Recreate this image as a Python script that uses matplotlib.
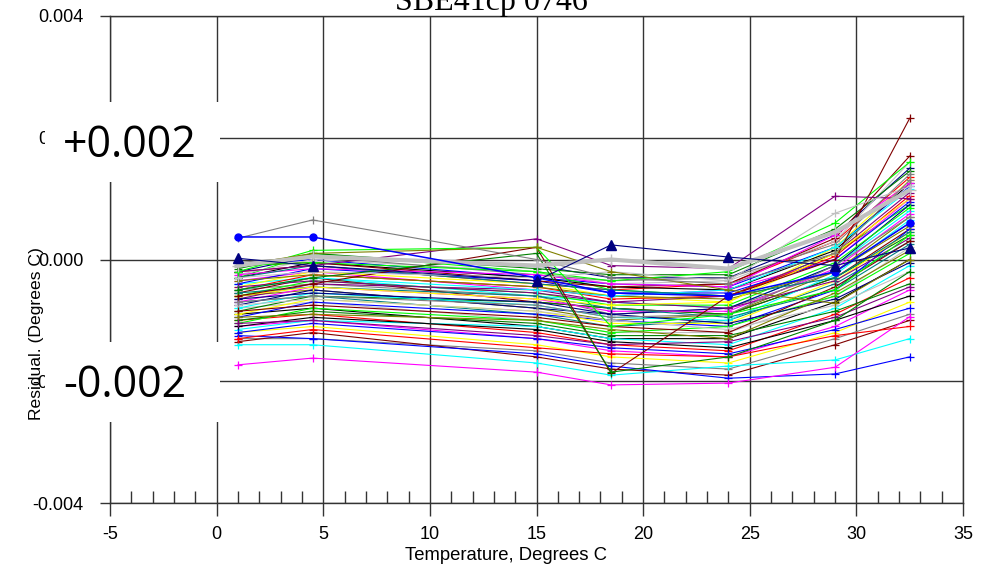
import matplotlib
matplotlib.use("Agg")
import matplotlib.pyplot as plt
from matplotlib.patches import Rectangle

# calibration temperatures (deg C)
temps = [1.0, 4.5, 15.0, 18.5, 24.0, 29.0, 32.5]

# residuals per calibration run, in millidegrees C
runs_mk = [
    [-0.10, 0.00, -0.30, -0.40, -0.45, 0.20, 1.20],
    [-0.20, -0.10, -0.40, -0.50, -0.40, 0.30, 1.35],
    [-0.30, 0.10, -0.20, -0.50, -0.60, 0.10, 0.90],
    [-0.35, -0.20, -0.50, -0.60, -0.50, 0.00, 1.00],
    [-0.40, -0.30, -0.60, -0.70, -0.80, -0.10, 0.80],
    [-0.45, -0.20, -0.40, -0.60, -0.70, 0.20, 1.30],
    [-0.50, -0.40, -0.60, -0.90, -0.80, -0.20, 0.60],
    [-0.55, -0.30, -0.70, -0.80, -0.90, -0.30, 0.50],
    [-0.60, -0.50, -0.80, -1.00, -0.90, -0.20, 0.70],
    [-0.65, -0.40, -0.50, -0.70, -0.60, 0.10, 1.10],
    [-0.70, -0.60, -0.90, -1.10, -1.00, -0.40, 0.30],
    [-0.75, -0.50, -0.80, -0.90, -0.80, -0.10, 0.90],
    [-0.80, -0.70, -1.00, -1.20, -1.20, -0.60, 0.20],
    [-0.85, -0.60, -0.70, -0.80, -0.90, -0.30, 0.40],
    [-0.90, -0.80, -1.10, -1.30, -1.30, -0.70, 0.00],
    [-0.95, -0.70, -0.90, -1.00, -1.10, -0.50, 0.50],
    [-1.00, -0.90, -1.20, -1.40, -1.50, -0.90, -0.30],
    [-1.05, -0.80, -1.00, -1.20, -1.10, -0.60, 0.10],
    [-1.10, -1.00, -1.30, -1.50, -1.60, -1.10, -0.50],
    [-1.15, -1.00, -1.10, -1.30, -1.40, -0.80, -0.10],
    [-1.20, -1.10, -1.40, -1.60, -1.70, -1.20, -0.70],
    [-1.30, -1.30, -1.50, -1.70, -1.80, -1.30, -0.90],
    [-1.35, -1.20, -1.60, -1.80, -1.90, -1.40, -1.00],
    [-1.40, -1.40, -1.70, -1.90, -1.75, -1.65, -1.30],
    [-1.25, -1.30, -1.55, -1.75, -1.95, -1.88, -1.60],
    [-1.73, -1.62, -1.85, -2.06, -2.03, -1.77, -0.94],
    [-0.20, 0.05, -0.10, -0.30, -0.30, 0.40, 1.50],
    [-0.25, 0.00, -0.20, -0.40, -0.35, 0.30, 1.60],
    [-0.15, 0.10, -0.15, -0.25, -0.25, 0.50, 1.45],
    [-0.30, -0.05, -0.30, -0.45, -0.50, 0.15, 1.25],
    [-0.40, -0.15, -0.35, -0.55, -0.55, 0.00, 0.95],
    [-0.50, -0.25, -0.45, -0.65, -0.60, 0.05, 1.05],
    [-0.60, -0.35, -0.55, -0.75, -0.75, -0.05, 0.85],
    [-0.70, -0.45, -0.65, -0.85, -0.85, -0.15, 0.75],
    [-0.80, -0.55, -0.75, -0.95, -1.00, -0.25, 0.65],
    [-0.90, -0.65, -0.85, -1.05, -1.05, -0.35, 0.45],
    [-0.05, 0.05, -0.25, -0.35, -0.30, 0.25, 1.40],
    [-0.10, -0.05, -0.35, -0.45, -0.40, 0.35, 1.70],
    [-0.35, -0.25, -0.45, -0.60, -0.65, -0.20, 0.55],
    [-0.45, -0.35, -0.55, -0.70, -0.80, -0.35, 0.35],
    [-0.55, -0.45, -0.60, -0.80, -0.95, -0.50, 0.25],
    [-0.65, -0.55, -0.70, -0.90, -1.05, -0.65, -0.05],
    [-0.75, -0.65, -0.85, -1.00, -1.15, -0.75, -0.20],
    [-1.00, -0.85, -1.05, -1.25, -1.25, -0.85, -0.40],
    [-1.10, -0.95, -1.15, -1.35, -1.45, -1.00, -0.60],
    [-1.20, -1.05, -1.30, -1.45, -1.55, -1.15, -0.80],
    [-1.30, -1.15, -1.45, -1.55, -1.60, -1.25, -1.10],
    [-0.10, -0.05, -0.20, -0.35, -0.20, 0.60, 1.60],
    [-0.25, -0.15, -0.25, -0.40, -0.45, 0.40, 1.25],
    [-0.50, -0.30, -0.50, -0.60, -0.50, 0.20, 1.15],
    [-0.60, -0.45, -0.65, -0.75, -0.70, 0.10, 1.00],
    [-0.70, -0.60, -0.75, -0.95, -0.90, -0.10, 0.70],
    [-0.85, -0.75, -0.95, -1.10, -1.20, -0.45, 0.30],
    [-0.95, -0.90, -1.00, -1.15, -1.30, -0.55, 0.15],
    [-1.05, -1.00, -1.25, -1.40, -1.35, -0.95, -0.45],
    [-0.30, -0.10, -0.40, -0.50, -0.60, -0.30, 0.45],
    [-0.60, -0.40, 0.20, -1.87, -0.60, 0.00, 2.32],
    [-0.20, -0.10, 0.34, -0.10, -0.15, 1.04, 1.00],
    [-0.30, -0.20, -0.30, -0.20, -0.35, 0.76, 1.20],
    [-0.20, 0.15, 0.20, -1.10, -0.90, -0.50, 0.40],
    [-0.50, -0.30, 0.10, -1.85, -1.60, -1.00, -0.20],
    [-0.10, 0.10, 0.20, -0.20, -0.50, -0.72, 0.00],
    [0.35, 0.65, 0.00, -0.30, -0.40, 0.10, 1.30],
]
run_colors = [
    "#0000FF", "#FF0000", "#00FF00", "#FF00FF", "#00FFFF", "#FFFF00",
    "#808080", "#800000", "#808000", "#800080", "#008080", "#000080",
    "#C0C0C0", "#008000", "#000000",
]
# runs whose colour is known from the picture (index -> colour)
fixed_colors = {
    23: "#00FFFF", 24: "#0000FF", 25: "#FF00FF",
    56: "#800000", 57: "#800080", 58: "#C0C0C0", 59: "#00FF00",
    60: "#008000", 61: "#808000", 62: "#808080",
}

# highlighted runs
thick_gray_mk = [-0.10, 0.05, -0.10, 0.00, -0.15, 0.45, 1.14]
blue_dot_mk = [0.37, 0.37, -0.30, -0.55, -0.60, -0.20, 0.60]
navy_tri_mk = [0.02, -0.10, -0.35, 0.24, 0.04, -0.10, 0.19]

y_ticks = [-0.004, -0.002, 0.0, 0.002, 0.004]
y_labels = ["-0.004", "-0.002", "0.000", "0.002", "0.004"]
x_ticks = [-5, 0, 5, 10, 15, 20, 25, 30, 35]

sans = ["Liberation Sans", "DejaVu Sans"]

W, H = 988, 565
fig = plt.figure(figsize=(W / 100, H / 100), dpi=100)
ax = fig.add_axes([110 / W, 1 - 503 / H, 853 / W, 487 / H])

for i, r in enumerate(runs_mk):
    c = fixed_colors.get(i, run_colors[i % len(run_colors)])
    ax.plot(temps, [v / 1000 for v in r], color=c, lw=0.8, marker="+",
            ms=6, mew=0.9, zorder=3)

ax.plot(temps, [v / 1000 for v in thick_gray_mk], color="#C0C0C0", lw=3,
        marker="+", ms=8, zorder=4)
ax.plot(temps, [v / 1000 for v in blue_dot_mk], color="#0000FF", lw=1.1,
        marker="o", ms=5, zorder=4)
ax.plot(temps, [v / 1000 for v in navy_tri_mk], color="#000080", lw=0.8,
        marker="^", ms=7, zorder=4)

ax.set_xlim(-5, 35)
ax.set_ylim(-0.004, 0.004)
ax.set_xticks(x_ticks)
ax.set_xticklabels([str(t) for t in x_ticks])
ax.set_xticks(range(-4, 35), minor=True)
ax.set_yticks(y_ticks)
ax.set_yticklabels(y_labels)
ax.grid(True, which="major", color="#333333", lw=1.0, zorder=1)
ax.set_axisbelow(True)
for s in ax.spines.values():
    s.set_color("#333333")
    s.set_linewidth(1.0)

ax.tick_params(axis="x", which="major", direction="out", length=9, width=1,
               color="#333333", pad=7.5, labelsize=13)
ax.tick_params(axis="x", which="minor", direction="in", length=9, width=1,
               color="#333333")
ax.tick_params(axis="y", which="major", direction="out", length=7, width=1,
               color="#333333", pad=12, labelsize=13)
for lab in ax.get_xticklabels() + ax.get_yticklabels():
    lab.set_family(sans)

ax.set_xlabel("Temperature, Degrees C", fontsize=13.3, family=sans)
ax.xaxis.label.set_va("baseline")
ax.xaxis.set_label_coords((506 - 110) / 853, (503 - 560) / 487)
ax.set_ylabel("Residual. (Degrees C)", fontsize=12.6, family=sans)
ax.yaxis.set_label_coords((44 - 110) / 853, (503 - 333) / 487)

ax.text((491 - 110) / 853, (503 - 10) / 487, "SBE41cp 0746", transform=ax.transAxes,
        ha="center", va="baseline", fontsize=23, family="Liberation Serif",
        clip_on=False)

# white patches pasted over the 0.002 labels, with bigger labels on top
for top, bottom, base, txt in [(102, 182, 157, "+0.002"), (342, 422, 397, "-0.002")]:
    fig.add_artist(Rectangle((45 / W, 1 - bottom / H), 175 / W, (bottom - top) / H,
                             transform=fig.transFigure, facecolor="white",
                             edgecolor="none", zorder=10))
    fig.text(63 / W, 1 - base / H, txt, ha="left", va="baseline", fontsize=31,
             family="Open Sans", zorder=11)

fig.savefig("out.png", dpi=100)
